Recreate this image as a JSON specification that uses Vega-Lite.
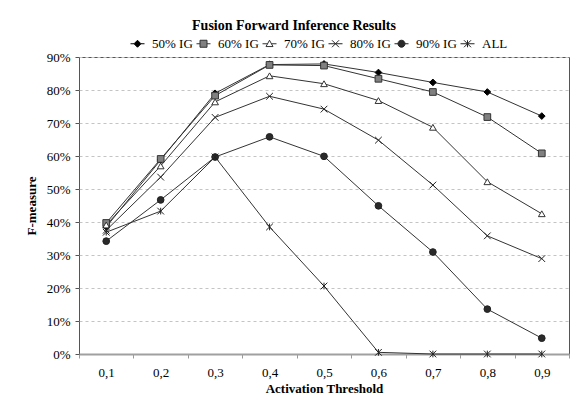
{
  "$schema": "https://vega.github.io/schema/vega-lite/v6.json",
  "autosize": "none",
  "width": 490,
  "height": 297,
  "padding": {"left": 79, "top": 57, "right": 13, "bottom": 44},
  "background": "white",
  "config": {
    "font": "Liberation Serif",
    "view": {"stroke": "#555555", "strokeWidth": 1},
    "axis": {"labelFont": "Liberation Serif", "titleFont": "Liberation Serif", "labelColor": "#000", "titleColor": "#000"},
    "legend": {"labelFont": "Liberation Serif"}
  },
  "title": {
    "text": "Fusion Forward Inference Results",
    "font": "Liberation Serif",
    "fontSize": 14,
    "fontWeight": "bold",
    "color": "#000",
    "anchor": "middle",
    "frame": "group",
    "dx": -30,
    "offset": 4
  },
  "data": {
    "values": [
      {"t": "0,1", "s": "50% IG", "v": 0.385}, {"t": "0,2", "s": "50% IG", "v": 0.588}, {"t": "0,3", "s": "50% IG", "v": 0.790},
      {"t": "0,4", "s": "50% IG", "v": 0.877}, {"t": "0,5", "s": "50% IG", "v": 0.879}, {"t": "0,6", "s": "50% IG", "v": 0.853},
      {"t": "0,7", "s": "50% IG", "v": 0.823}, {"t": "0,8", "s": "50% IG", "v": 0.794}, {"t": "0,9", "s": "50% IG", "v": 0.721},
      {"t": "0,1", "s": "60% IG", "v": 0.397}, {"t": "0,2", "s": "60% IG", "v": 0.591}, {"t": "0,3", "s": "60% IG", "v": 0.783},
      {"t": "0,4", "s": "60% IG", "v": 0.876}, {"t": "0,5", "s": "60% IG", "v": 0.874}, {"t": "0,6", "s": "60% IG", "v": 0.834},
      {"t": "0,7", "s": "60% IG", "v": 0.794}, {"t": "0,8", "s": "60% IG", "v": 0.718}, {"t": "0,9", "s": "60% IG", "v": 0.608},
      {"t": "0,1", "s": "70% IG", "v": 0.391}, {"t": "0,2", "s": "70% IG", "v": 0.570}, {"t": "0,3", "s": "70% IG", "v": 0.764},
      {"t": "0,4", "s": "70% IG", "v": 0.843}, {"t": "0,5", "s": "70% IG", "v": 0.819}, {"t": "0,6", "s": "70% IG", "v": 0.768},
      {"t": "0,7", "s": "70% IG", "v": 0.687}, {"t": "0,8", "s": "70% IG", "v": 0.522}, {"t": "0,9", "s": "70% IG", "v": 0.425},
      {"t": "0,1", "s": "80% IG", "v": 0.375}, {"t": "0,2", "s": "80% IG", "v": 0.536}, {"t": "0,3", "s": "80% IG", "v": 0.717},
      {"t": "0,4", "s": "80% IG", "v": 0.781}, {"t": "0,5", "s": "80% IG", "v": 0.742}, {"t": "0,6", "s": "80% IG", "v": 0.648},
      {"t": "0,7", "s": "80% IG", "v": 0.512}, {"t": "0,8", "s": "80% IG", "v": 0.358}, {"t": "0,9", "s": "80% IG", "v": 0.289},
      {"t": "0,1", "s": "90% IG", "v": 0.342}, {"t": "0,2", "s": "90% IG", "v": 0.467}, {"t": "0,3", "s": "90% IG", "v": 0.597},
      {"t": "0,4", "s": "90% IG", "v": 0.658}, {"t": "0,5", "s": "90% IG", "v": 0.599}, {"t": "0,6", "s": "90% IG", "v": 0.449},
      {"t": "0,7", "s": "90% IG", "v": 0.309}, {"t": "0,8", "s": "90% IG", "v": 0.136}, {"t": "0,9", "s": "90% IG", "v": 0.048},
      {"t": "0,1", "s": "ALL", "v": 0.369}, {"t": "0,2", "s": "ALL", "v": 0.433}, {"t": "0,3", "s": "ALL", "v": 0.597},
      {"t": "0,4", "s": "ALL", "v": 0.385}, {"t": "0,5", "s": "ALL", "v": 0.206}, {"t": "0,6", "s": "ALL", "v": 0.005},
      {"t": "0,7", "s": "ALL", "v": 0.0}, {"t": "0,8", "s": "ALL", "v": 0.0}, {"t": "0,9", "s": "ALL", "v": 0.0}
    ]
  },
  "encoding": {
    "x": {
      "field": "t", "type": "ordinal",
      "scale": {"type": "band", "paddingInner": 0, "paddingOuter": 0},
      "axis": {
        "title": "Activation Threshold", "labelAngle": 0, "tickBand": "extent",
        "labelFont": "Liberation Serif", "titleFont": "Liberation Serif",
        "labelFontSize": 13, "labelPadding": 8, "tickSize": 4, "tickColor": "#999999",
        "domainColor": "#a0a0a0", "domainWidth": 2,
        "titleFontSize": 13, "titleFontWeight": "bold", "titlePadding": 3, "grid": false
      }
    },
    "y": {
      "field": "v", "type": "quantitative",
      "scale": {"domain": [0, 0.9], "nice": false},
      "axis": {
        "title": "F-measure", "format": ".0%",
        "values": [0, 0.1, 0.2, 0.3, 0.4, 0.5, 0.6, 0.7, 0.8, 0.9],
        "labelFont": "Liberation Serif", "titleFont": "Liberation Serif",
        "grid": true, "gridColor": "#c4c4c4", "gridDash": [3, 3], "gridWidth": 1,
        "domain": false, "tickSize": 4, "tickColor": "#555555",
        "labelFontSize": 13, "labelPadding": 5,
        "titleFontSize": 13, "titleFontWeight": "bold", "titlePadding": 8
      }
    }
  },
  "layer": [
    {
      "mark": {"type": "line", "color": "#333333", "strokeWidth": 1},
      "encoding": {"detail": {"field": "s"}}
    },
    {
      "mark": {"type": "point", "size": 45, "strokeWidth": 1, "opacity": 1, "filled": true},
      "encoding": {
        "shape": {
          "field": "s", "type": "nominal", "legend": null,
          "scale": {
            "domain": ["50% IG", "60% IG", "70% IG", "80% IG", "90% IG", "ALL"],
            "range": ["diamond", "square", "triangle-up", "M-1,-1L1,1M-1,1L1,-1", "circle", "M-1,-1L1,1M-1,1L1,-1M0,-1L0,1"]
          }
        },
        "fill": {
          "field": "s", "type": "nominal", "legend": null,
          "scale": {
            "domain": ["50% IG", "60% IG", "70% IG", "80% IG", "90% IG", "ALL"],
            "range": ["#000000", "#808080", "#ffffff", "transparent", "#2a2a2a", "transparent"]
          }
        },
        "stroke": {
          "field": "s", "type": "nominal", "legend": null,
          "scale": {
            "domain": ["50% IG", "60% IG", "70% IG", "80% IG", "90% IG", "ALL"],
            "range": ["#000000", "#333333", "#333333", "#222222", "#222222", "#222222"]
          }
        }
      }
    },
    {
      "mark": {"type": "point", "opacity": 0, "size": 45, "filled": true, "strokeWidth": 1},
      "encoding": {
        "fill": {
          "field": "s", "type": "nominal",
          "scale": {
            "domain": ["50% IG", "60% IG", "70% IG", "80% IG", "90% IG", "ALL"],
            "range": ["#000000", "#808080", "#ffffff", "transparent", "#2a2a2a", "transparent"]
          },
          "legend": {
            "title": null, "orient": "none", "direction": "horizontal",
            "legendX": 52, "legendY": -20,
            "symbolSize": 49, "labelOffset": 8, "columnPadding": 1,
            "symbolStrokeWidth": 1, "symbolOpacity": 1,
            "labelFont": "Liberation Serif", "labelFontSize": 13, "labelColor": "#000"
          }
        },
        "stroke": {
          "field": "s", "type": "nominal",
          "scale": {
            "domain": ["50% IG", "60% IG", "70% IG", "80% IG", "90% IG", "ALL"],
            "range": ["#000000", "#333333", "#333333", "#222222", "#222222", "#222222"]
          },
          "legend": {
            "title": null, "orient": "none", "direction": "horizontal",
            "legendX": 52, "legendY": -20,
            "symbolSize": 49, "labelOffset": 8, "columnPadding": 1,
            "symbolStrokeWidth": 1, "symbolOpacity": 1,
            "labelFont": "Liberation Serif", "labelFontSize": 13, "labelColor": "#000"
          }
        },
        "shape": {
          "field": "s", "type": "nominal",
          "scale": {
            "domain": ["50% IG", "60% IG", "70% IG", "80% IG", "90% IG", "ALL"],
            "range": [
              "M-2,0L-1,0M1,0L2,0M0,-1L1,0L0,1L-1,0Z",
              "M-2,0L-1,0M1,0L2,0M-1,-1L1,-1L1,1L-1,1Z",
              "M-2,0L-0.55,0M0.55,0L2,0M0,-1L1,0.8L-1,0.8Z",
              "M-2,0L2,0M-1,-1L1,1M-1,1L1,-1",
              "M-2,0L-1,0M1,0L2,0M-1,0A1,1,0,1,0,1,0A1,1,0,1,0,-1,0Z",
              "M-2,0L2,0M-1,-1L1,1M-1,1L1,-1M0,-1L0,1"
            ]
          },
          "legend": {
            "title": null, "orient": "none", "direction": "horizontal",
            "legendX": 52, "legendY": -20,
            "symbolSize": 49, "labelOffset": 8, "columnPadding": 1,
            "symbolStrokeWidth": 1, "symbolOpacity": 1,
            "labelFont": "Liberation Serif", "labelFontSize": 13, "labelColor": "#000"
          }
        }
      }
    }
  ],
  "resolve": {"scale": {"shape": "independent", "fill": "independent", "stroke": "independent"}}
}
